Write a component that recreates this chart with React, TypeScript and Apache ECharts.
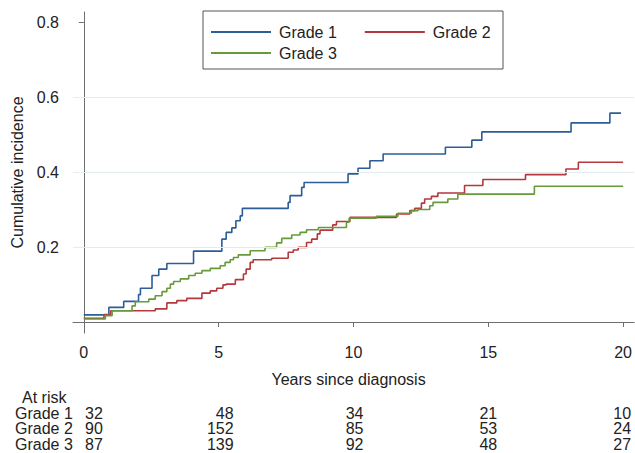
import React, { useEffect, useRef } from "react";
import * as echarts from "echarts";

const FONT = "'Liberation Sans', Arial, Helvetica, sans-serif";

const seriesNames = ["Grade 1", "Grade 2", "Grade 3"];
const colors = ["#2c5d96", "#b5383d", "#679a3a"];

const blueT = [0, 0.93, 1.48, 2.03, 2.1, 2.53, 2.78, 3.08, 4.07, 5.12, 5.28, 5.49, 5.64, 5.8, 5.88, 7.58, 7.65, 8.08, 8.17, 9.8, 10.17, 10.61, 11.1, 13.41, 14.39, 14.76, 18.07, 19.51, 19.92];
const blueV = [0.019, 0.039, 0.055, 0.073, 0.09, 0.124, 0.141, 0.156, 0.189, 0.221, 0.239, 0.251, 0.27, 0.283, 0.303, 0.319, 0.337, 0.359, 0.372, 0.395, 0.41, 0.43, 0.448, 0.466, 0.485, 0.507, 0.531, 0.557, 0.557];

const redT = [0, 0.75, 1.0, 2.65, 3.08, 3.45, 3.82, 4.38, 4.69, 4.93, 5.16, 5.28, 5.62, 5.92, 6.02, 6.17, 6.28, 6.97, 7.58, 7.77, 7.95, 8.26, 8.45, 8.66, 8.76, 9.23, 9.37, 9.87, 11.6, 12.09, 12.27, 12.52, 12.64, 12.89, 13.13, 14.12, 14.8, 16.38, 17.88, 18.34, 20.0];
const redV = [0.01, 0.02, 0.03, 0.035, 0.051, 0.057, 0.063, 0.077, 0.083, 0.09, 0.099, 0.101, 0.113, 0.128, 0.141, 0.159, 0.166, 0.17, 0.186, 0.192, 0.199, 0.212, 0.221, 0.235, 0.245, 0.259, 0.268, 0.279, 0.288, 0.297, 0.303, 0.317, 0.328, 0.335, 0.344, 0.364, 0.38, 0.393, 0.408, 0.426, 0.426];

const greenT = [0, 0.8, 1.05, 1.79, 1.91, 2.41, 2.65, 2.9, 3.08, 3.21, 3.33, 3.58, 3.89, 4.13, 4.38, 4.69, 5.06, 5.24, 5.43, 5.55, 5.73, 6.17, 6.72, 7.15, 7.34, 7.71, 8.02, 8.26, 8.7, 9.74, 9.84, 10.85, 11.65, 12.15, 12.39, 12.83, 12.95, 13.5, 13.87, 16.71, 20.0];
const greenV = [0.008, 0.017, 0.03, 0.043, 0.054, 0.061, 0.07, 0.081, 0.09, 0.101, 0.108, 0.115, 0.124, 0.13, 0.137, 0.143, 0.15, 0.159, 0.166, 0.172, 0.179, 0.19, 0.199, 0.211, 0.223, 0.232, 0.239, 0.246, 0.252, 0.266, 0.277, 0.282, 0.29, 0.297, 0.3, 0.31, 0.319, 0.328, 0.341, 0.362, 0.362];

const xTicks = [0, 5, 10, 15, 20];
const yTicks = [0.2, 0.4, 0.6, 0.8];
const gridValues = [0.2, 0.4, 0.6];

const atRiskTimes = [0, 5, 10, 15, 20];
const atRisk1 = [32, 48, 34, 21, 10];
const atRisk2 = [90, 152, 85, 53, 24];
const atRisk3 = [87, 139, 92, 48, 27];
const atRiskOffsets = [19, 15, 10, 9, 8];

const zip = (t: number[], v: number[]) => t.map((x, i) => [x, v[i]]);

export default function App() {
  const ref = useRef<HTMLDivElement>(null);
  useEffect(() => {
    document.body.style.margin = "0";
    const chart = echarts.init(ref.current!, null, { renderer: "svg" });
    const textStyle = { fontFamily: FONT, fontSize: 16, color: "#222" };
    const legendBase = {
      left: 211,
      itemWidth: 60,
      itemHeight: 2,
      icon: "rect",
      itemGap: 28,
      padding: 0,
      textStyle: { ...textStyle, padding: [0, 0, 0, 3] },
    };
    const datas = [zip(blueT, blueV), zip(redT, redV), zip(greenT, greenV)];
    chart.setOption({
      animation: false,
      textStyle: { fontFamily: FONT },
      grid: { left: 73, right: 0, top: 12, bottom: 120 },
      legend: [
        { ...legendBase, top: 24, data: ["Grade 1", "Grade 2"] },
        { ...legendBase, top: 45, data: ["Grade 3"] },
      ],
      xAxis: {
        type: "value",
        min: -0.4,
        max: 20.41,
        name: "Years since diagnosis",
        nameLocation: "middle",
        nameGap: 38,
        nameTextStyle: { ...textStyle, padding: [0, 10, 0, 0] },
        axisLine: { lineStyle: { color: "#6e6e6e" } },
        axisTick: { customValues: xTicks, length: 5, lineStyle: { color: "#6e6e6e" } },
        axisLabel: { customValues: xTicks, ...textStyle, margin: 11 },
        splitLine: { show: false },
      },
      yAxis: {
        type: "value",
        min: -0.0293,
        max: 0.8267,
        name: "Cumulative incidence",
        nameLocation: "middle",
        nameGap: 47,
        nameTextStyle: textStyle,
        axisLine: { show: true, lineStyle: { color: "#6e6e6e" } },
        axisTick: { show: true, customValues: yTicks, length: 5, lineStyle: { color: "#6e6e6e" } },
        axisLabel: { customValues: yTicks, ...textStyle, margin: 14, formatter: (v: number) => v.toFixed(1) },
        splitLine: { show: false },
      },
      series: [
        {
          type: "line",
          name: "gridlines",
          data: [],
          z: 1,
          silent: true,
          markLine: {
            silent: true,
            symbol: "none",
            label: { show: false },
            lineStyle: { color: "#e4ecef", type: "solid", width: 1 },
            data: gridValues.map((v) => ({ yAxis: v })),
          },
        },
        ...seriesNames.map((n, i) => ({
          type: "line",
          name: n,
          step: "end",
          data: datas[i],
          showSymbol: false,
          symbol: "none",
          z: 3,
          color: colors[i],
          lineStyle: { color: colors[i], width: 1.6 },
        })),
      ],
    });

    const xs = atRiskTimes.map((t) => chart.convertToPixel({ xAxisIndex: 0 }, t) as number);
    const rows = [atRisk1, atRisk2, atRisk3];
    const rowY = [413, 428.5, 444];
    const elements: any[] = [
      {
        type: "rect",
        z: 1,
        shape: { x: 203, y: 11, width: 300, height: 58 },
        style: { fill: "#fff", stroke: "#555", lineWidth: 1 },
      },
      {
        type: "text",
        x: 22,
        y: 397,
        style: { text: "At risk", ...textStyle, fill: "#222", textVerticalAlign: "middle", verticalAlign: "middle" },
      },
    ];
    rows.forEach((row, r) => {
      elements.push({
        type: "text",
        x: 15,
        y: rowY[r],
        style: { text: seriesNames[r], font: `16px ${FONT}`, fill: "#222", verticalAlign: "middle" },
      });
      row.forEach((val, c) => {
        elements.push({
          type: "text",
          x: xs[c] + atRiskOffsets[c],
          y: rowY[r],
          style: { text: String(val), font: `16px ${FONT}`, fill: "#222", align: "right", verticalAlign: "middle" },
        });
      });
    });
    chart.setOption({ graphic: { elements } });
    return () => chart.dispose();
  }, []);
  return <div ref={ref} style={{ width: 635, height: 453 }} />;
}
